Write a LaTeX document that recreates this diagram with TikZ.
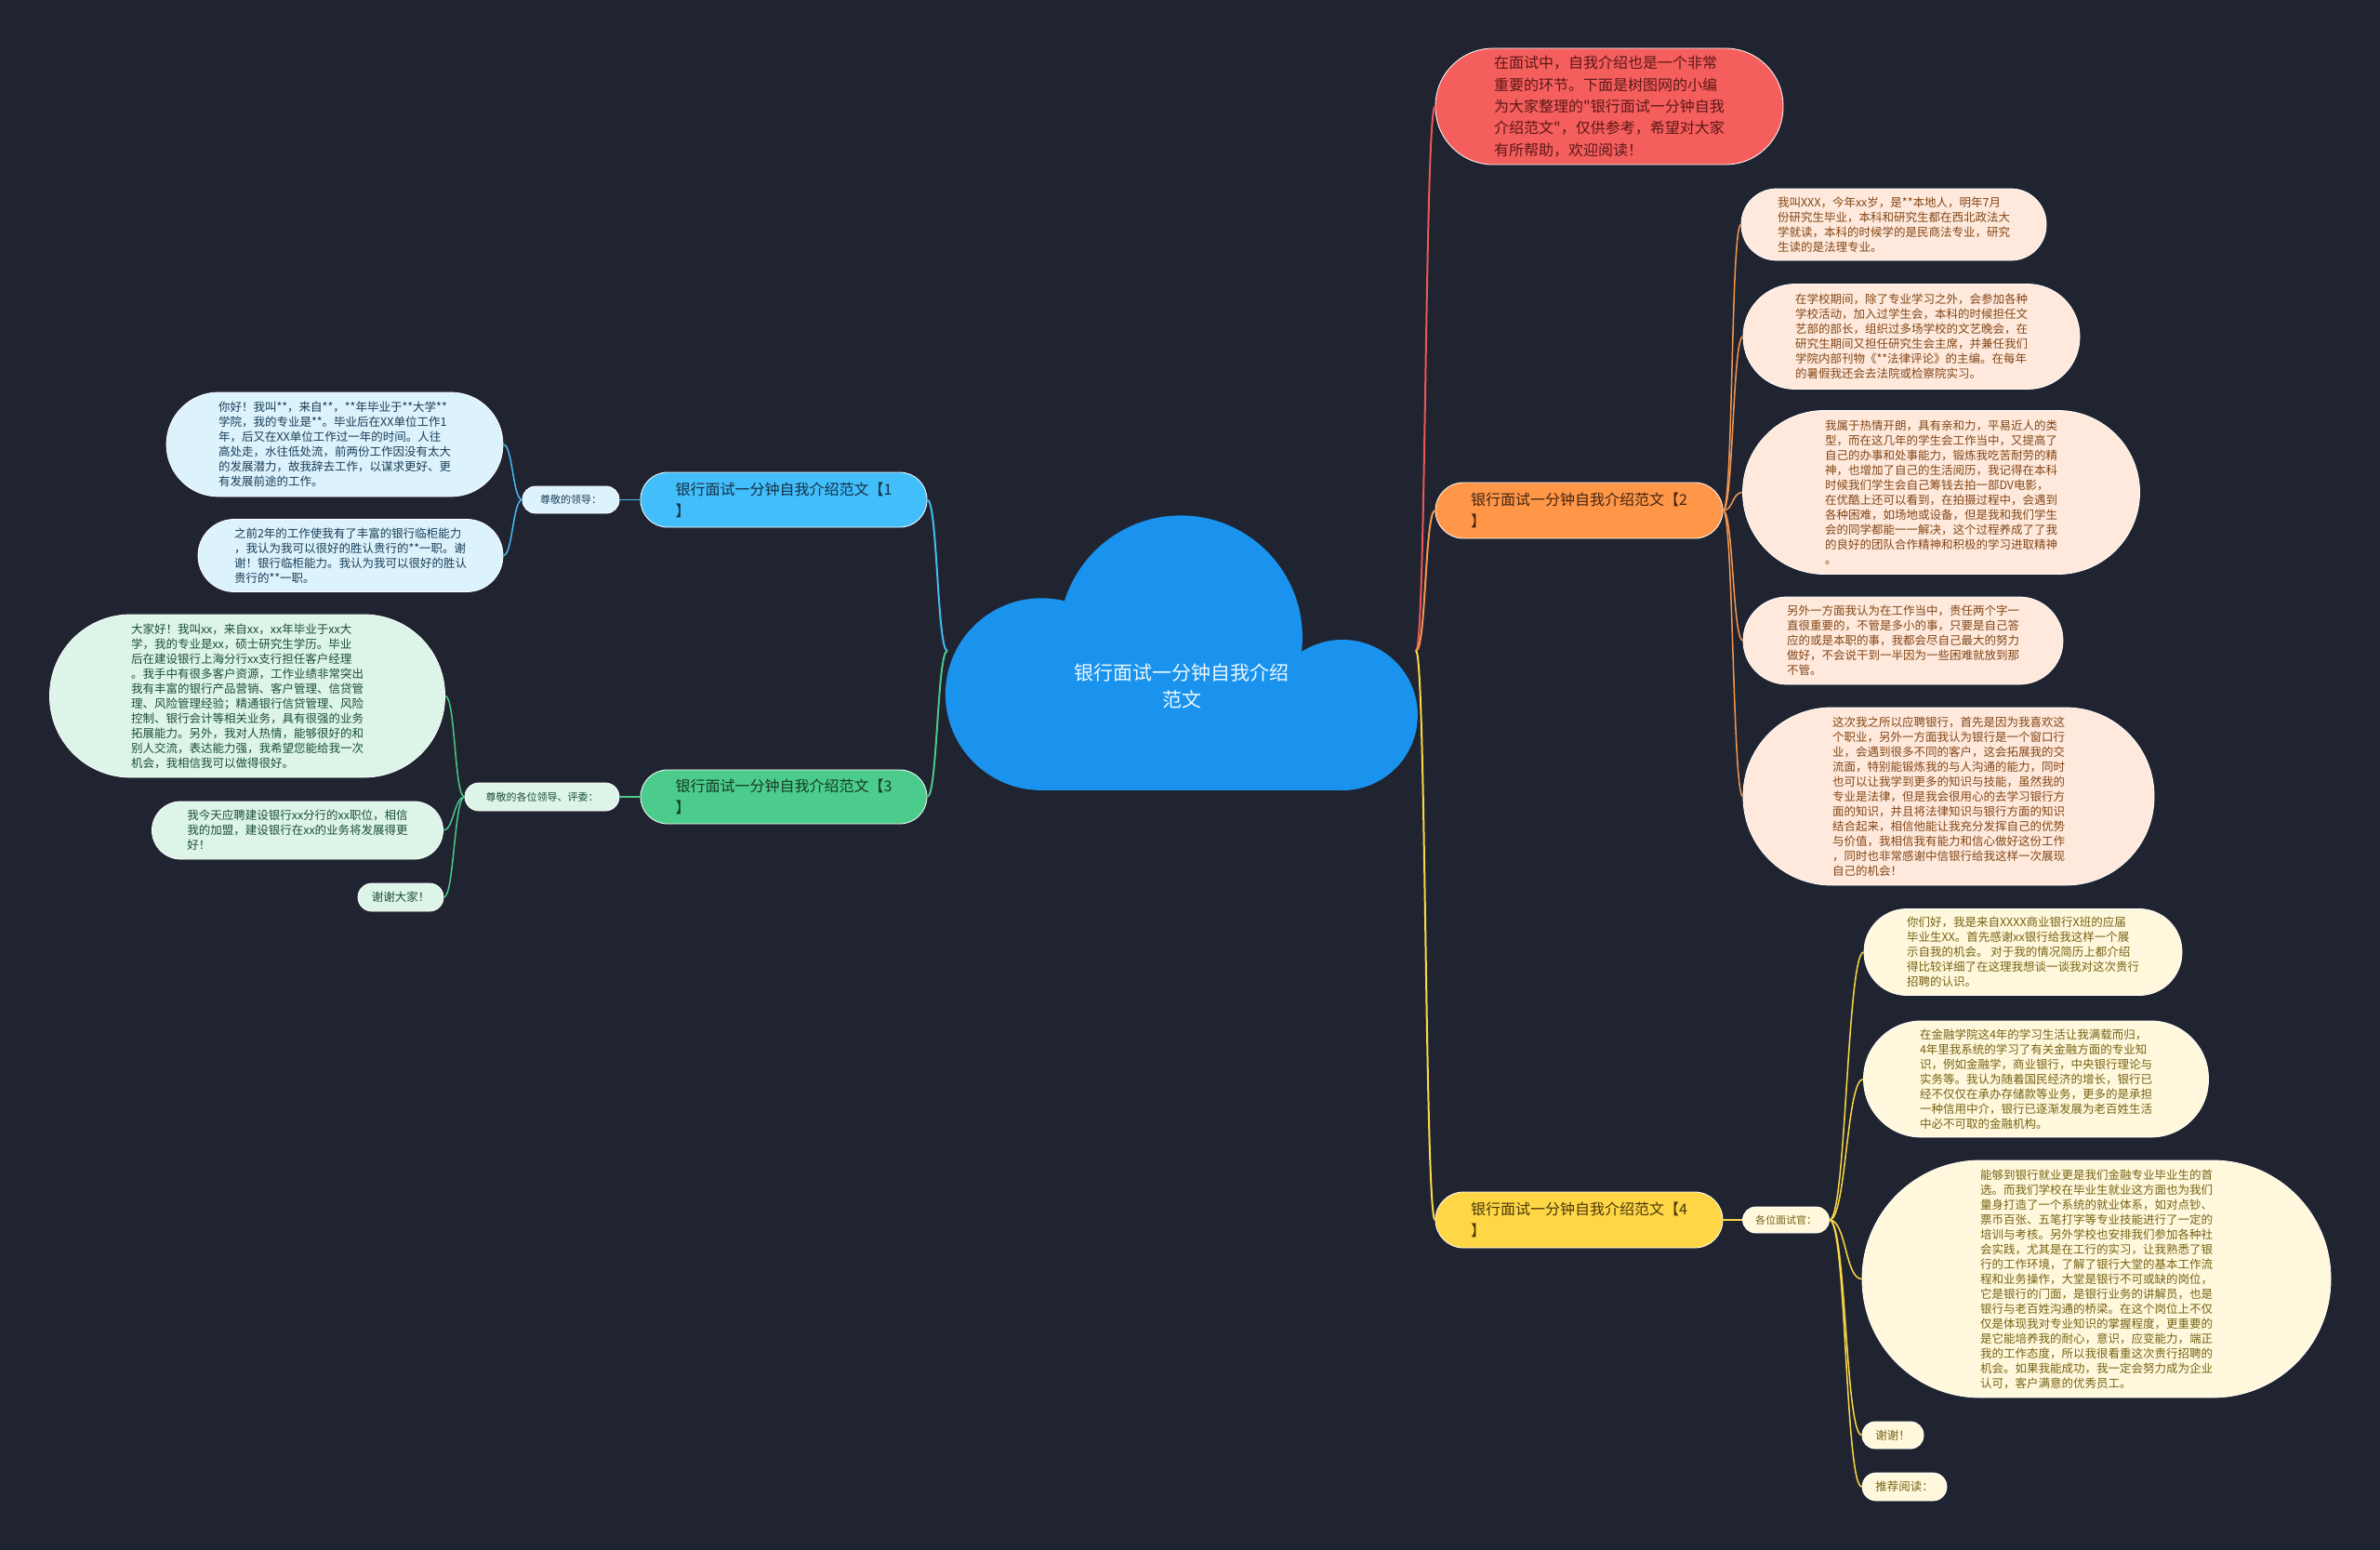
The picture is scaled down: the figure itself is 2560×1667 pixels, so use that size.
\documentclass[tikz,border=0pt]{standalone}
\usepackage{fontspec}
\newfontfamily\cnfont{Noto Sans CJK SC}
\usepackage{xcolor}
\definecolor{bgdark}{RGB}{32, 36, 48}
\definecolor{cloudblue}{RGB}{26, 147, 238}
\definecolor{introred}{RGB}{244, 94, 92}
\definecolor{introtext}{RGB}{92, 24, 24}
\definecolor{branchblue}{RGB}{66, 190, 250}
\definecolor{branchgreen}{RGB}{76, 204, 140}
\definecolor{branchorange}{RGB}{255, 150, 72}
\definecolor{branchyellow}{RGB}{255, 214, 70}
\definecolor{leafblue}{RGB}{220, 242, 252}
\definecolor{leafgreen}{RGB}{220, 245, 232}
\definecolor{leaforange}{RGB}{254, 233, 220}
\definecolor{leafyellow}{RGB}{255, 248, 220}
\definecolor{textblue}{RGB}{25, 62, 88}
\definecolor{textgreen}{RGB}{28, 78, 52}
\definecolor{textorange}{RGB}{132, 70, 22}
\definecolor{textyellow}{RGB}{118, 98, 20}
\definecolor{darkblue}{RGB}{22, 48, 70}
\definecolor{darkgreen}{RGB}{22, 58, 38}
\definecolor{darkorange}{RGB}{66, 36, 16}
\definecolor{darkyellow}{RGB}{72, 56, 10}
\definecolor{linkred}{RGB}{232, 88, 88}
\definecolor{linkorange}{RGB}{245, 150, 80}
\definecolor{linkyellow}{RGB}{250, 215, 70}
\definecolor{linkblue}{RGB}{70, 185, 240}
\definecolor{linkgreen}{RGB}{75, 200, 140}
\tikzset{
  bubble/.style   = {rectangle, draw=white, line width=0.8pt, align=left, inner sep=2pt},
  central/.style  = {font=\cnfont\fontsize{21}{29}\selectfont, text=white!92!cyan, align=center},
  intro/.style    = {bubble, fill=introred, text=introtext, font=\cnfont\fontsize{16}{23.3}\selectfont},
  sample/.style   = {bubble, font=\cnfont\fontsize{16}{23}\selectfont},
  tag/.style      = {bubble, font=\cnfont\fontsize{11}{14}\selectfont},
  leaf/.style     = {bubble, font=\cnfont\fontsize{12.5}{16}\selectfont},
  blueset/.style  = {fill=leafblue, text=textblue},
  greenset/.style = {fill=leafgreen, text=textgreen},
  orangeset/.style= {fill=leaforange, text=textorange},
  yellowset/.style= {fill=leafyellow, text=textyellow},
  link/.style     = {line width=2pt},
  twig/.style     = {line width=1.5pt},
}

\begin{document}
\begin{tikzpicture}[x=1pt, y=-1pt]

% 背景
\fill[bgdark] (0,0) rectangle (2560,1667);
\useasboundingbox (0,0) rectangle (2560,1667);

% 中心云朵
\fill[cloudblue] (1270,685.3) circle[radius=130.9];
\fill[cloudblue] (1120.2,746.6) circle[radius=103.3];
\fill[cloudblue] (1443.9,769) circle[radius=81];
\fill[cloudblue] (1120.2,746.6) rectangle (1443.9,850);
\node[central] (root) at (1271,738) {银行面试一分钟自我介绍\\范文};
\coordinate (root_w) at (1019,700);
\coordinate (root_e) at (1523,700);

% 引言
\node[intro, minimum width=374, minimum height=125, rounded corners=62] (intro_red) at (1731,114.5)
  {在面试中，自我介绍也是一个非常\\重要的环节。下面是树图网的小编\\为大家整理的"银行面试一分钟自我\\介绍范文"，仅供参考，希望对大家\\有所帮助，欢迎阅读！};

% 四个分支
\node[sample, fill=branchblue, text=darkblue, minimum width=308, minimum height=59, rounded corners=29] (sample_one) at (843,537.5) {银行面试一分钟自我介绍范文【1\\】};
\node[sample, fill=branchorange, text=darkorange, minimum width=309, minimum height=60, rounded corners=30] (sample_two) at (1698.5,549) {银行面试一分钟自我介绍范文【2\\】};
\node[sample, fill=branchgreen, text=darkgreen, minimum width=308, minimum height=58, rounded corners=29] (sample_three) at (843,857) {银行面试一分钟自我介绍范文【3\\】};
\node[sample, fill=branchyellow, text=darkyellow, minimum width=309, minimum height=60, rounded corners=30] (sample_four) at (1698.5,1312) {银行面试一分钟自我介绍范文【4\\】};

% 称呼
\node[tag, blueset, minimum width=104, minimum height=29, rounded corners=14] (greet_one) at (614,537.5) {尊敬的领导：};
\node[tag, greenset, minimum width=166, minimum height=30, rounded corners=15] (greet_three) at (583,857) {尊敬的各位领导、评委：};
\node[tag, yellowset, minimum width=93, minimum height=28, rounded corners=14] (greet_four) at (1921,1312) {各位面试官：};

% 范文1
\node[leaf, blueset, minimum width=362, minimum height=112, rounded corners=56] (one_a) at (360,478)
  {你好！我叫**，来自**，**年毕业于**大学**\\学院，我的专业是**。毕业后在XX单位工作1\\年，后又在XX单位工作过一年的时间。人往\\高处走，水往低处流，前两份工作因没有太大\\的发展潜力，故我辞去工作，以谋求更好、更\\有发展前途的工作。};
\node[leaf, blueset, minimum width=328, minimum height=78, rounded corners=39] (one_b) at (377,597.5)
  {之前2年的工作使我有了丰富的银行临柜能力\\，我认为我可以很好的胜认贵行的**一职。谢\\谢！银行临柜能力。我认为我可以很好的胜认\\贵行的**一职。};

% 范文3
\node[leaf, greenset, minimum width=425, minimum height=175, rounded corners=87] (three_a) at (266,748.5)
  {大家好！我叫xx，来自xx，xx年毕业于xx大\\学，我的专业是xx，硕士研究生学历。毕业\\后在建设银行上海分行xx支行担任客户经理\\。我手中有很多客户资源，工作业绩非常突出\\我有丰富的银行产品营销、客户管理、信贷管\\理、风险管理经验；精通银行信贷管理、风险\\控制、银行会计等相关业务，具有很强的业务\\拓展能力。另外，我对人热情，能够很好的和\\别人交流，表达能力强，我希望您能给我一次\\机会，我相信我可以做得很好。};
\node[leaf, greenset, minimum width=313, minimum height=62, rounded corners=31] (three_b) at (320,893)
  {我今天应聘建设银行xx分行的xx职位，相信\\我的加盟，建设银行在xx的业务将发展得更\\好！};
\node[leaf, greenset, minimum width=92, minimum height=30, rounded corners=15] (three_c) at (431,965) {谢谢大家！};

% 范文2
\node[leaf, orangeset, minimum width=328, minimum height=77, rounded corners=38] (two_a) at (2037,241.5)
  {我叫XXX，今年xx岁，是**本地人，明年7月\\份研究生毕业，本科和研究生都在西北政法大\\学就读，本科的时候学的是民商法专业，研究\\生读的是法理专业。};
\node[leaf, orangeset, minimum width=362, minimum height=113, rounded corners=56] (two_b) at (2056,362)
  {在学校期间，除了专业学习之外，会参加各种\\学校活动，加入过学生会，本科的时候担任文\\艺部的部长，组织过多场学校的文艺晚会，在\\研究生期间又担任研究生会主席，并兼任我们\\学院内部刊物《**法律评论》的主编。在每年\\的暑假我还会去法院或检察院实习。};
\node[leaf, orangeset, minimum width=427, minimum height=176, rounded corners=88] (two_c) at (2088,529.5)
  {我属于热情开朗，具有亲和力，平易近人的类\\型，而在这几年的学生会工作当中，又提高了\\自己的办事和处事能力，锻炼我吃苦耐劳的精\\神，也增加了自己的生活阅历，我记得在本科\\时候我们学生会自己筹钱去拍一部DV电影，\\在优酷上还可以看到，在拍摄过程中，会遇到\\各种困难，如场地或设备，但是我和我们学生\\会的同学都能一一解决，这个过程养成了了我\\的良好的团队合作精神和积极的学习进取精神\\。};
\node[leaf, orangeset, minimum width=344, minimum height=94, rounded corners=47] (two_d) at (2047,689)
  {另外一方面我认为在工作当中，责任两个字一\\直很重要的，不管是多小的事，只要是自己答\\应的或是本职的事，我都会尽自己最大的努力\\做好，不会说干到一半因为一些困难就放到那\\不管。};
\node[leaf, orangeset, minimum width=442, minimum height=191, rounded corners=95] (two_e) at (2096,856.5)
  {这次我之所以应聘银行，首先是因为我喜欢这\\个职业，另外一方面我认为银行是一个窗口行\\业，会遇到很多不同的客户，这会拓展我的交\\流面，特别能锻炼我的与人沟通的能力，同时\\也可以让我学到更多的知识与技能，虽然我的\\专业是法律，但是我会很用心的去学习银行方\\面的知识，并且将法律知识与银行方面的知识\\结合起来，相信他能让我充分发挥自己的优势\\与价值，我相信我有能力和信心做好这份工作\\，同时也非常感谢中信银行给我这样一次展现\\自己的机会！};

% 范文4
\node[leaf, yellowset, minimum width=342, minimum height=93, rounded corners=46] (four_a) at (2176,1024)
  {你们好，我是来自XXXX商业银行X班的应届\\毕业生XX。首先感谢xx银行给我这样一个展\\示自我的机会。 对于我的情况简历上都介绍\\得比较详细了在这理我想谈一谈我对这次贵行\\招聘的认识。};
\node[leaf, yellowset, minimum width=371, minimum height=125, rounded corners=62] (four_b) at (2190,1160.5)
  {在金融学院这4年的学习生活让我满载而归，\\4年里我系统的学习了有关金融方面的专业知\\识，例如金融学，商业银行，中央银行理论与\\实务等。我认为随着国民经济的增长，银行已\\经不仅仅在承办存储款等业务，更多的是承担\\一种信用中介，银行已逐渐发展为老百姓生活\\中必不可取的金融机构。};
\node[leaf, yellowset, minimum width=504, minimum height=255, rounded corners=127] (four_c) at (2255,1375.5)
  {能够到银行就业更是我们金融专业毕业生的首\\选。而我们学校在毕业生就业这方面也为我们\\量身打造了一个系统的就业体系，如对点钞、\\票币百张、五笔打字等专业技能进行了一定的\\培训与考核。另外学校也安排我们参加各种社\\会实践，尤其是在工行的实习，让我熟悉了银\\行的工作环境，了解了银行大堂的基本工作流\\程和业务操作，大堂是银行不可或缺的岗位，\\它是银行的门面，是银行业务的讲解员，也是\\银行与老百姓沟通的桥梁。在这个岗位上不仅\\仅是体现我对专业知识的掌握程度，更重要的\\是它能培养我的耐心，意识，应变能力，端正\\我的工作态度，所以我很看重这次贵行招聘的\\机会。如果我能成功，我一定会努力成为企业\\认可，客户满意的优秀员工。};
\node[leaf, yellowset, minimum width=66, minimum height=29, rounded corners=14] (four_d) at (2036,1543.5) {谢谢！};
\node[leaf, yellowset, minimum width=91, minimum height=30, rounded corners=15] (four_e) at (2048.5,1599) {推荐阅读：};

% 连线：中心→分支
\draw[link, linkred] (root_e) .. controls +(11,0) and +(-11,0) .. (intro_red.west);
\draw[link, linkorange] (root_e) .. controls +(11,0) and +(-11,0) .. (sample_two.west);
\draw[link, linkyellow] (root_e) .. controls +(11,0) and +(-11,0) .. (sample_four.west);
\draw[link, linkblue] (root_w) .. controls +(-11,0) and +(11,0) .. (sample_one.east);
\draw[link, linkgreen] (root_w) .. controls +(-11,0) and +(11,0) .. (sample_three.east);

% 连线：分支→称呼
\draw[twig, linkblue] (sample_one.west) -- (greet_one.east);
\draw[twig, linkgreen] (sample_three.west) -- (greet_three.east);
\draw[twig, linkyellow] (sample_four.east) -- (greet_four.west);

% 连线：叶子
\foreach \n in {one_a, one_b}
  \draw[twig, linkblue] (greet_one.west) .. controls +(-10,0) and +(10,0) .. (\n.east);
\foreach \n in {three_a, three_b, three_c}
  \draw[twig, linkgreen] (greet_three.west) .. controls +(-11,0) and +(11,0) .. (\n.east);
\foreach \n in {two_a, two_b, two_c, two_d, two_e}
  \draw[twig, linkorange] (sample_two.east) .. controls +(11,0) and +(-11,0) .. (\n.west);
\foreach \n in {four_a, four_b, four_c, four_d, four_e}
  \draw[twig, linkyellow] (greet_four.east) .. controls +(18,0) and +(-18,0) .. (\n.west);

\end{tikzpicture}
\end{document}
